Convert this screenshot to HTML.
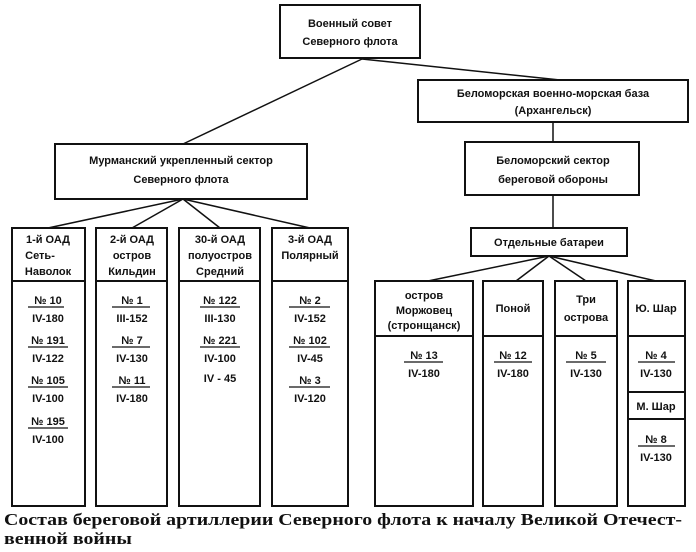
<!DOCTYPE html>
<html><head><meta charset="utf-8"><style>
body{margin:0;background:#fff;width:696px;height:552px;overflow:hidden}
svg text{font-family:"Liberation Sans",sans-serif;font-weight:bold;font-size:11px;fill:#111;text-anchor:middle}
.cap{position:absolute;left:4px;top:510px;font-family:"Liberation Serif",serif;font-weight:bold;font-size:17px;line-height:19px;color:#111;white-space:nowrap;transform:scaleX(1.17);transform-origin:0 0}
</style></head><body>
<svg width="696" height="552" style="position:absolute;left:0;top:0" stroke="#111" fill="none" stroke-width="2">
<rect x="280" y="5" width="140" height="53"/>
<rect x="418" y="80" width="270" height="42"/>
<rect x="55" y="144" width="252" height="55"/>
<rect x="465" y="142" width="174" height="53"/>
<rect x="471" y="228" width="156" height="28"/>
<g stroke-width="1.5">
<line x1="362" y1="59" x2="183" y2="144"/>
<line x1="362" y1="59" x2="560" y2="80"/>
<line x1="553" y1="122" x2="553" y2="142"/>
<line x1="553" y1="195" x2="553" y2="228"/>
<line x1="183" y1="199" x2="48" y2="228"/>
<line x1="183" y1="199" x2="132" y2="228"/>
<line x1="183" y1="199" x2="220" y2="228"/>
<line x1="183" y1="199" x2="310" y2="228"/>
<line x1="549" y1="256" x2="428" y2="281"/>
<line x1="549" y1="256" x2="516" y2="281"/>
<line x1="549" y1="256" x2="586" y2="281"/>
<line x1="549" y1="256" x2="656" y2="281"/>
</g>
<rect x="12" y="228" width="73" height="278"/><line x1="12" y1="281" x2="85" y2="281"/>
<rect x="96" y="228" width="71" height="278"/><line x1="96" y1="281" x2="167" y2="281"/>
<rect x="179" y="228" width="81" height="278"/><line x1="179" y1="281" x2="260" y2="281"/>
<rect x="272" y="228" width="76" height="278"/><line x1="272" y1="281" x2="348" y2="281"/>
<rect x="375" y="281" width="98" height="225"/><line x1="375" y1="336" x2="473" y2="336"/>
<rect x="483" y="281" width="60" height="225"/><line x1="483" y1="336" x2="543" y2="336"/>
<rect x="555" y="281" width="62" height="225"/><line x1="555" y1="336" x2="617" y2="336"/>
<rect x="628" y="281" width="57" height="225"/><line x1="628" y1="336" x2="685" y2="336"/><line x1="628" y1="392" x2="685" y2="392"/><line x1="628" y1="419" x2="685" y2="419"/>
<g stroke-width="1.2">
<line x1="28" y1="307" x2="64" y2="307"/><line x1="28" y1="347" x2="68" y2="347"/><line x1="28" y1="387" x2="68" y2="387"/><line x1="28" y1="428" x2="68" y2="428"/>
<line x1="112" y1="307" x2="150" y2="307"/><line x1="112" y1="347" x2="150" y2="347"/><line x1="112" y1="387" x2="150" y2="387"/>
<line x1="200" y1="307" x2="240" y2="307"/><line x1="200" y1="347" x2="240" y2="347"/>
<line x1="289" y1="307" x2="330" y2="307"/><line x1="289" y1="347" x2="330" y2="347"/><line x1="289" y1="387" x2="330" y2="387"/>
<line x1="404" y1="362" x2="443" y2="362"/><line x1="494" y1="362" x2="532" y2="362"/><line x1="566" y1="362" x2="606" y2="362"/><line x1="638" y1="362" x2="675" y2="362"/><line x1="638" y1="446" x2="675" y2="446"/>
</g>
</svg>
<svg width="696" height="552" style="position:absolute;left:0;top:0">
<text x="350" y="27">Военный совет</text><text x="350" y="45">Северного флота</text>
<text x="553" y="97">Беломорская военно-морская база</text><text x="553" y="114">(Архангельск)</text>
<text x="181" y="164">Мурманский укрепленный сектор</text><text x="181" y="183">Северного флота</text>
<text x="553" y="164">Беломорский сектор</text><text x="553" y="183">береговой обороны</text>
<text x="549" y="246">Отдельные батареи</text>
<text x="48" y="243">1-й ОАД</text><text x="40" y="259">Сеть-</text><text x="48" y="275">Наволок</text>
<text x="132" y="243">2-й ОАД</text><text x="132" y="259">остров</text><text x="132" y="275">Кильдин</text>
<text x="220" y="243">30-й ОАД</text><text x="220" y="259">полуостров</text><text x="220" y="275">Средний</text>
<text x="310" y="243">3-й ОАД</text><text x="310" y="259">Полярный</text>
<text x="48" y="304">№ 10</text><text x="48" y="322">IV-180</text>
<text x="48" y="344">№ 191</text><text x="48" y="362">IV-122</text>
<text x="48" y="384">№ 105</text><text x="48" y="402">IV-100</text>
<text x="48" y="425">№ 195</text><text x="48" y="443">IV-100</text>
<text x="132" y="304">№ 1</text><text x="132" y="322">III-152</text>
<text x="132" y="344">№ 7</text><text x="132" y="362">IV-130</text>
<text x="132" y="384">№ 11</text><text x="132" y="402">IV-180</text>
<text x="220" y="304">№ 122</text><text x="220" y="322">III-130</text>
<text x="220" y="344">№ 221</text><text x="220" y="362">IV-100</text>
<text x="220" y="382">IV - 45</text>
<text x="310" y="304">№ 2</text><text x="310" y="322">IV-152</text>
<text x="310" y="344">№ 102</text><text x="310" y="362">IV-45</text>
<text x="310" y="384">№ 3</text><text x="310" y="402">IV-120</text>
<text x="424" y="299">остров</text><text x="424" y="314">Моржовец</text><text x="424" y="329">(стронщанск)</text>
<text x="513" y="312">Поной</text>
<text x="586" y="303">Три</text><text x="586" y="321">острова</text>
<text x="656" y="312">Ю. Шар</text>
<text x="424" y="359">№ 13</text><text x="424" y="377">IV-180</text>
<text x="513" y="359">№ 12</text><text x="513" y="377">IV-180</text>
<text x="586" y="359">№ 5</text><text x="586" y="377">IV-130</text>
<text x="656" y="359">№ 4</text><text x="656" y="377">IV-130</text>
<text x="656" y="410">М. Шар</text>
<text x="656" y="443">№ 8</text><text x="656" y="461">IV-130</text>
</svg>
<div class="cap">Состав береговой артиллерии Северного флота к началу Великой Отечест-<br>венной войны</div>
</body></html>
